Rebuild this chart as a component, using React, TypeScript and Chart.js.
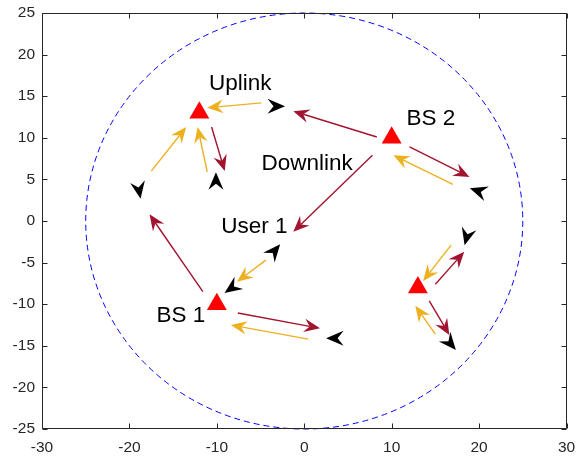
import React, { useEffect, useRef } from "react";
import { Chart, registerables } from "chart.js";
Chart.register(...registerables);

// Base stations
const bsX = [-12, 10, -10, 13];
const bsY = [13, 10, -10, -8];

// Users (black arrowhead markers): centre and pointing direction (deg, CCW from +x)
const userX = [-3.2, -18.9, -10.1, 19.9, -3.4, -8.3, 3.5, 18.6, 16.7];
const userY = [13.8, 3.7, 4.8, 3.6, -3.6, -8.05, -14.1, -1.9, -14.7];
const userDir = [0, -80, 90, 162, 50, -145, 180, -105, -50];

// Uplink arrows (orange)
const upFromX = [-4.9, -17.5, -11.1, 17.0, -4.4, 0.45, 16.8, 15.0];
const upFromY = [14.2, 6.0, 5.9, 4.4, -4.7, -14.2, -2.9, -13.6];
const upToX = [-11.1, -13.5, -12.2, 10.2, -7.7, -8.4, 13.6, 12.7];
const upToY = [13.6, 11.3, 11.3, 7.9, -7.3, -12.5, -7.2, -10.2];

// Downlink arrows (dark red)
const downFromX = [-10.6, 8.3, 12.05, 7.8, -11.6, -7.6, 15.0, 14.3];
const downFromY = [11.3, 10.1, 8.9, 7.9, -8.5, -11.06, -7.6, -9.6];
const downToX = [-9.1, -1.25, 18.9, -1.25, -17.7, 1.8, 18.3, 16.6];
const downToY = [6.0, 13.2, 5.3, -1.3, 0.8, -12.9, -3.7, -13.7];

// Text annotations (left / baseline)
const labelText = ["Uplink", "Downlink", "BS 2", "User 1", "BS 1"];
const labelX = [-10.9, -4.9, 11.7, -9.5, -16.9];
const labelY = [15.75, 6.13, 11.54, -1.44, -12.1];

const xTicks = [-30, -20, -10, 0, 10, 20, 30];
const yTicks = [-25, -20, -15, -10, -5, 0, 5, 10, 15, 20, 25];
const cellRadius = 25;

const UP_COLOR = "#EDB120";
const DOWN_COLOR = "#A2142F";
const AXIS_COLOR = "#262626";
const FONT = "'Liberation Sans', Arial, Helvetica, sans-serif";

function head(ctx: CanvasRenderingContext2D, tx: number, ty: number, ux: number, uy: number, L: number, W: number, N: number) {
  const nx = -uy, ny = ux;
  const bx = tx - L * ux, by = ty - L * uy;
  ctx.beginPath();
  ctx.moveTo(tx, ty);
  ctx.lineTo(bx + W * nx, by + W * ny);
  ctx.lineTo(tx - (L - N) * ux, ty - (L - N) * uy);
  ctx.lineTo(bx - W * nx, by - W * ny);
  ctx.closePath();
  ctx.fill();
}

function drawArrows(chart: any, fx: number[], fy: number[], tx: number[], ty: number[], color: string) {
  const { ctx, scales } = chart;
  const x = scales.x, y = scales.y;
  ctx.save();
  ctx.strokeStyle = color;
  ctx.fillStyle = color;
  ctx.lineWidth = 1.4;
  const L = 16, W = 6.8, N = 5.5;
  for (let i = 0; i < fx.length; i++) {
    const x0 = x.getPixelForValue(fx[i]), y0 = y.getPixelForValue(fy[i]);
    const x1 = x.getPixelForValue(tx[i]), y1 = y.getPixelForValue(ty[i]);
    const d = Math.hypot(x1 - x0, y1 - y0);
    const ux = (x1 - x0) / d, uy = (y1 - y0) / d;
    ctx.beginPath();
    ctx.moveTo(x0, y0);
    ctx.lineTo(x1 - (L - N) * ux, y1 - (L - N) * uy);
    ctx.stroke();
    head(ctx, x1, y1, ux, uy, L, W, N);
  }
  ctx.restore();
}

const decor = {
  id: "decor",
  beforeDatasetsDraw(chart: any) {
    const { ctx, scales } = chart;
    const x = scales.x, y = scales.y;
    const cx = x.getPixelForValue(0), cy = y.getPixelForValue(0);
    const rx = x.getPixelForValue(cellRadius) - cx;
    const ry = cy - y.getPixelForValue(cellRadius);
    ctx.save();
    ctx.beginPath();
    ctx.setLineDash([6, 4]);
    ctx.strokeStyle = "#0000FF";
    ctx.lineWidth = 1;
    ctx.ellipse(cx, cy, rx, ry, 0, 0, Math.PI * 2);
    ctx.stroke();
    ctx.restore();
  },
  afterDatasetsDraw(chart: any) {
    const { ctx, scales, chartArea: a } = chart;
    const x = scales.x, y = scales.y;
    drawArrows(chart, upFromX, upFromY, upToX, upToY, UP_COLOR);
    drawArrows(chart, downFromX, downFromY, downToX, downToY, DOWN_COLOR);

    // users
    ctx.save();
    ctx.fillStyle = "#000000";
    const L = 17.5, W = 7.5, N = 6;
    for (let i = 0; i < userX.length; i++) {
      const px = x.getPixelForValue(userX[i]), py = y.getPixelForValue(userY[i]);
      const ang = (userDir[i] * Math.PI) / 180;
      const ux = Math.cos(ang), uy = -Math.sin(ang);
      head(ctx, px + (L / 2) * ux, py + (L / 2) * uy, ux, uy, L, W, N);
    }
    ctx.restore();

    // labels
    ctx.save();
    ctx.fillStyle = "#000000";
    ctx.font = `22.5px ${FONT}`;
    ctx.textAlign = "left";
    ctx.textBaseline = "alphabetic";
    for (let i = 0; i < labelText.length; i++) {
      ctx.fillText(labelText[i], x.getPixelForValue(labelX[i]), y.getPixelForValue(labelY[i]));
    }
    ctx.restore();

    // box + inward ticks
    ctx.save();
    ctx.strokeStyle = AXIS_COLOR;
    ctx.lineWidth = 1;
    const l = Math.round(a.left) + 0.5, r = Math.round(a.right) - 0.5;
    const t = Math.round(a.top) + 0.5, b = Math.round(a.bottom) - 0.5;
    ctx.beginPath();
    ctx.rect(l, t, r - l, b - t);
    const tl = 5;
    for (const v of xTicks) {
      const px = Math.round(x.getPixelForValue(v)) + 0.5;
      ctx.moveTo(px, b); ctx.lineTo(px, b - tl);
      ctx.moveTo(px, t); ctx.lineTo(px, t + tl);
    }
    for (const v of yTicks) {
      const py = Math.round(y.getPixelForValue(v)) + 0.5;
      ctx.moveTo(l, py); ctx.lineTo(l + tl, py);
      ctx.moveTo(r, py); ctx.lineTo(r - tl, py);
    }
    ctx.stroke();
    ctx.restore();
  },
};

export default function App() {
  const ref = useRef<HTMLCanvasElement | null>(null);
  useEffect(() => {
    if (!ref.current) return;
    const chart = new Chart(ref.current, {
      type: "scatter",
      data: {
        datasets: [
          {
            label: "BS",
            data: bsX.map((v, i) => ({ x: v, y: bsY[i] })),
            pointStyle: "triangle",
            pointRadius: 11.5,
            pointHoverRadius: 11.5,
            backgroundColor: "#FF0000",
            borderColor: "#FF0000",
            borderWidth: 0,
          },
        ],
      },
      options: {
        animation: false,
        responsive: true,
        maintainAspectRatio: false,
        events: [],
        layout: { padding: { top: 13, right: 8, left: 0, bottom: 0 } },
        plugins: { legend: { display: false }, tooltip: { enabled: false } },
        scales: {
          x: {
            type: "linear",
            min: -30,
            max: 30,
            grid: { display: false, drawTicks: false },
            border: { display: false },
            afterBuildTicks: (s: any) => {
              s.ticks = xTicks.map((v) => ({ value: v }));
            },
            ticks: {
              padding: 9,
              color: AXIS_COLOR,
              font: { family: FONT, size: 15.5 },
              maxRotation: 0,
              autoSkip: false,
            },
            afterFit: (s: any) => {
              s.height = 29;
              s.paddingLeft = 0;
              s.paddingRight = 0;
            },
          },
          y: {
            type: "linear",
            min: -25,
            max: 25,
            grid: { display: false, drawTicks: false },
            border: { display: false },
            afterBuildTicks: (s: any) => {
              s.ticks = yTicks.map((v) => ({ value: v }));
            },
            ticks: {
              padding: 7,
              color: AXIS_COLOR,
              font: { family: FONT, size: 15.5 },
              autoSkip: false,
            },
            afterFit: (s: any) => {
              s.width = 42;
              s.paddingTop = 0;
              s.paddingBottom = 0;
            },
          },
        },
      },
      plugins: [decor],
    });
    return () => chart.destroy();
  }, []);
  return (
    <div style={{ position: "fixed", left: 0, top: 0, width: 578, height: 458, background: "#fff" }}>
      <canvas ref={ref} />
    </div>
  );
}
